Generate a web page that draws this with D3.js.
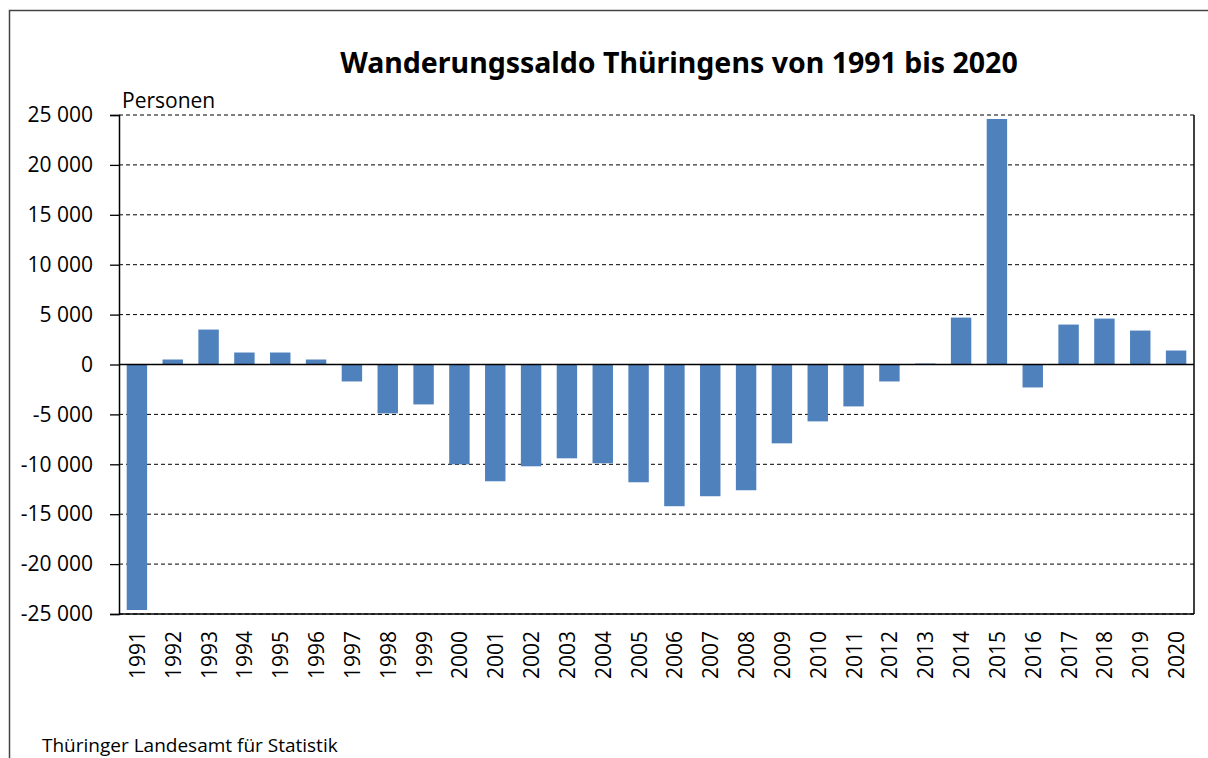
<!DOCTYPE html>
<html>
<head>
<meta charset="utf-8">
<script src="https://cdn.jsdelivr.net/npm/d3@7"></script>
<style>
  body { margin: 0; background: #fff; }
  text { font-family: "Noto Sans", "Open Sans", sans-serif; fill: #000; }
</style>
</head>
<body>
<div class="chartDiv"></div>
<script>
"use strict";

// Wanderungssaldo Thueringen
var years = ["1991","1992","1993","1994","1995","1996","1997","1998","1999","2000",
             "2001","2002","2003","2004","2005","2006","2007","2008","2009","2010",
             "2011","2012","2013","2014","2015","2016","2017","2018","2019","2020"];
var saldo = [-24600, 500, 3500, 1200, 1200, 500, -1700, -4900, -4000, -10000,
             -11700, -10200, -9400, -9900, -11800, -14200, -13200, -12600, -7900, -5700,
             -4200, -1700, 100, 4700, 24600, -2300, 4000, 4600, 3400, 1400];
var yTicks = [-25000, -20000, -15000, -10000, -5000, 0, 5000, 10000, 15000, 20000, 25000];

var W = 1208, H = 758;
var margin = {top: 115, right: 14, bottom: 144, left: 119};
var width = W - margin.left - margin.right;
var height = H - margin.top - margin.bottom;

var svg = d3.select(".chartDiv").append("svg")
    .attr("width", W)
    .attr("height", H);

// outer frame, right and bottom run off the page
svg.append("rect")
    .attr("x", 9.5).attr("y", 10.5)
    .attr("width", W).attr("height", H)
    .attr("fill", "none")
    .attr("stroke", "#444")
    .attr("stroke-width", 1.5);

var g = svg.append("g")
    .attr("transform", "translate(" + margin.left + "," + margin.top + ")");

var x = d3.scaleBand()
    .domain(years)
    .range([0, width])
    .paddingInner(0.43)
    .paddingOuter(0.215);

var y = d3.scaleLinear()
    .domain([-25000, 25000])
    .range([height, 0]);

function fmt(v) {
  // German style: gap as thousands separator
  var s = d3.format(",")(Math.abs(v)).replace(/,/g, " ");
  return (v < 0 ? "-" : "") + s;
}

// dashed grid
g.selectAll(".grid")
  .data(yTicks.filter(function(d) { return d !== 0; }))
  .enter().append("line")
    .attr("class", "grid")
    .attr("x1", 0).attr("x2", width)
    .attr("y1", function(d) { return y(d); })
    .attr("y2", function(d) { return y(d); })
    .attr("stroke", "#000")
    .attr("stroke-width", 1)
    .attr("stroke-dasharray", "4,3");

// bars
g.selectAll(".bar")
  .data(saldo)
  .enter().append("rect")
    .attr("class", "bar")
    .attr("x", function(d, i) { return x(years[i]); })
    .attr("width", x.bandwidth())
    .attr("y", function(d) { return y(Math.max(0, d)); })
    .attr("height", function(d) { return Math.abs(y(d) - y(0)); })
    .attr("fill", "#4f81bd");

// y axis
var yAxis = g.append("g")
    .call(d3.axisLeft(y).tickValues(yTicks).tickSize(9).tickPadding(17).tickFormat(fmt));
yAxis.select(".domain").attr("stroke", "#000").attr("stroke-width", 1.5);
yAxis.selectAll(".tick line").attr("stroke", "#000").attr("stroke-width", 1.3);
yAxis.selectAll(".tick text")
    .style("font-size", "21px")
    .style("font-family", "\"Open Sans\", sans-serif");

// zero line, bottom line and right border
g.append("line")
    .attr("x1", 0).attr("x2", width)
    .attr("y1", y(0)).attr("y2", y(0))
    .attr("stroke", "#000").attr("stroke-width", 1.5);
g.append("line")
    .attr("x1", 0).attr("x2", width)
    .attr("y1", height).attr("y2", height)
    .attr("stroke", "#000").attr("stroke-width", 1.3);
g.append("line")
    .attr("x1", width).attr("x2", width)
    .attr("y1", 0).attr("y2", height)
    .attr("stroke", "#000").attr("stroke-width", 1.5);

// x labels, rotated
g.selectAll(".xlab")
  .data(years)
  .enter().append("text")
    .attr("class", "xlab")
    .attr("transform", function(d) {
      return "translate(" + (x(d) + x.bandwidth() / 2 + 8) + "," + (height + 17) + ") rotate(-90)";
    })
    .attr("text-anchor", "end")
    .style("font-size", "21px")
    .style("font-family", "\"Open Sans\", sans-serif")
    .text(function(d) { return d; });

// title
svg.append("text")
    .attr("x", 679).attr("y", 73)
    .attr("text-anchor", "middle")
    .style("font-size", "28.5px")
    .style("font-weight", "bold")
    .text("Wanderungssaldo Thüringens von 1991 bis 2020");

// unit label
svg.append("text")
    .attr("x", 122).attr("y", 108)
    .style("font-size", "21px")
    .style("font-family", "\"Open Sans\", sans-serif")
    .text("Personen");

// source
svg.append("text")
    .attr("x", 42).attr("y", 752)
    .style("font-size", "19px")
    .style("font-family", "\"Open Sans\", sans-serif")
    .text("Thüringer Landesamt für Statistik");
</script>
</body>
</html>
